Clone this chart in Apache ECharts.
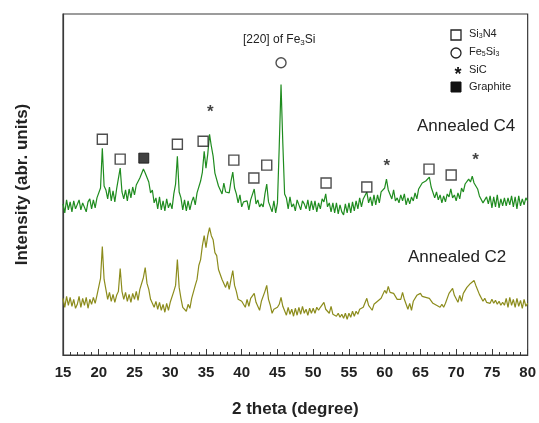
<!DOCTYPE html>
<html>
<head>
<meta charset="utf-8">
<script src="https://cdn.jsdelivr.net/npm/echarts@6/dist/echarts.min.js"></script>
<style>html,body{margin:0;padding:0;background:#fff}#c{width:539px;height:423px}</style>
</head>
<body>
<div id="c"></div>
<script>
// 2-theta sampling grid (degrees)
const thetaStart = 15, thetaStep = 0.25;
const xTicks = [15,20,25,30,35,40,45,50,55,60,65,70,75,80];

// Annealed C4 (offset upward), intensity in arbitrary units
const annealedC4 = [
152,143,156,146, 154,144,155,147, 145,156,146,153, 155,144,154,157, 147,156,148,158,
156,168,208,170, 166,157,169,155, 165,154,167,166, 188,164,157,166, 155,167,158,169,
161,171,169,178, 178,187,183,181, 174,163,166,153, 158,147,159,146, 155,145,157,148,
153,147,162,172, 200,164,158,146, 156,145,155,146, 154,159,151,163, 163,175,184,205,
188,202,222,210, 200,183,184,170, 171,162,173,164, 166,163,175,184, 168,162,153,161,
149,154,152,155, 146,156,155,167, 152,156,149,152, 149,162,172,154, 152,144,155,143,
153,210,272,213, 162,158,147,159, 149,152,145,156, 151,146,155,152, 147,156,145,155,
146,155,144,153, 147,157,154,162, 149,153,144,153, 143,153,142,151, 144,141,152,143,
153,143,154,145, 155,147,158,149, 157,155,164,153, 159,150,161,151, 161,153,164,166,
168,177,166,164, 157,166,155,158, 153,161,155,162, 151,158,152,159, 155,163,157,167,
165,173,171,175, 173,179,169,171, 158,164,156,161, 153,160,154,162, 159,167,158,161,
155,163,157,168, 164,172,170,177, 174,180,173,174, 167,160,159,153, 151,159,152,160,
148,159,149,161, 148,157,150,158, 150,158,151,160, 149,159,147,160, 150,157,151,158,
155];

// Annealed C2 (lower trace)
const annealedC2 = [
57,48,59,50, 58,49,56,47, 51,59,48,57, 50,58,47,56, 51,58,52,60,
60,77,109,76, 66,56,63,54, 61,53,60,64, 87,64,56,63, 54,61,53,62,
56,64,55,66, 66,78,88,72, 66,56,57,48, 54,46,53,45, 51,43,52,45,
53,53,64,70, 96,68,57,48, 50,44,51,47, 57,58,70,76, 90,96,110,120,
108,120,128,120, 116,103,100,86, 84,76,76,68, 74,66,76,85, 70,64,56,57,
54,55,48,56, 49,57,56,62, 53,51,45,54, 53,64,70,56, 50,42,46,44,
48,51,58,49, 47,40,48,41, 46,39,47,40, 48,41,49,42, 46,40,47,42,
47,42,48,45, 48,47,53,46, 48,42,49,41, 43,39,42,38, 41,37,42,36,
42,38,44,39, 44,41,46,45, 48,46,57,50, 50,45,51,49, 54,52,57,58,
65,62,69,63, 64,62,62,56, 58,56,63,56, 54,46,52,45, 54,53,60,60,
62,59,61,58, 60,57,58,52, 54,50,52,48, 51,48,52,53, 62,60,67,60,
59,53,60,54, 62,60,68,66, 72,70,75,70, 70,61,61,54, 57,53,55,52,
56,52,55,51, 54,50,53,50, 57,48,58,50, 56,48,57,49, 55,47,56,49,
52];

// Phase markers [2theta, height]
const si3n4Marks = [[20.5,217],[23,197],[31,212],[34.6,215],[38.9,196],[41.7,178],[43.5,191],[51.8,173],[57.5,169],[66.2,187],[69.3,181]];
const fe5si3Marks = [[45.5,294]];
const sicMarks = [[35.6,248],[60.3,194],[72.7,200]];
const graphiteMarks = [[26.3,198]];

const toPairs = arr => arr.map((v,i)=>[thetaStart + i*thetaStep, v]);

const FONT = '"Liberation Sans", Arial, sans-serif';
const chart = echarts.init(document.getElementById('c'), null, {renderer:'canvas'});
chart.setOption({
  animation:false,
  backgroundColor:'#fff',
  grid:{left:63,right:10,top:14,bottom:66,show:true,borderColor:'#3a3a3a',borderWidth:1.2},
  xAxis:{
    type:'value',min:15,max:80,interval:5,
    name:'2 theta (degree)',nameLocation:'middle',nameGap:46,
    nameTextStyle:{fontFamily:FONT,fontSize:17,fontWeight:'bold',color:'#222'},
    axisLine:{lineStyle:{color:'#3a3a3a',width:1.2}},
    axisTick:{inside:true,length:6,lineStyle:{color:'#3a3a3a'}},
    minorTick:{show:true,splitNumber:5,length:3,lineStyle:{color:'#3a3a3a'}},
    axisLabel:{fontFamily:FONT,fontSize:15,fontWeight:'bold',color:'#222',margin:10,
      formatter:v=>xTicks.includes(v)?String(v):''},
    splitLine:{show:false}
  },
  yAxis:{
    type:'value',min:0,max:343,
    name:'Intensity (abr. units)',nameLocation:'middle',nameGap:32,
    nameTextStyle:{fontFamily:FONT,fontSize:17,fontWeight:'bold',color:'#222'},
    axisLine:{show:true,lineStyle:{color:'#3a3a3a',width:1.2}},
    axisTick:{show:false},axisLabel:{show:false},splitLine:{show:false}
  },
  series:[
    {type:'line',name:'Annealed C4',data:toPairs(annealedC4),showSymbol:false,
     lineStyle:{color:'#1f8c1f',width:1.2},z:2},
    {type:'line',name:'Annealed C2',data:toPairs(annealedC2),showSymbol:false,
     lineStyle:{color:'#8c8c1c',width:1.2},z:2},
    {type:'scatter',name:'Si3N4',data:si3n4Marks,symbol:'rect',symbolSize:10,
     itemStyle:{color:'#fff',borderColor:'#222',borderWidth:1.4},z:5},
    {type:'scatter',name:'Fe5Si3',data:fe5si3Marks,symbol:'circle',symbolSize:10,
     itemStyle:{color:'#fff',borderColor:'#222',borderWidth:1.4},z:5},
    {type:'scatter',name:'Graphite',data:graphiteMarks,symbol:'rect',symbolSize:10,
     itemStyle:{color:'#111',borderColor:'#111',borderWidth:1},z:5},
    {type:'scatter',name:'SiC',data:sicMarks,symbolSize:2,itemStyle:{color:'rgba(0,0,0,0)'},z:5,
     label:{show:true,position:'inside',formatter:'*',fontFamily:FONT,fontSize:17,fontWeight:'bold',color:'#111',offset:[0,4]}}
  ],
  graphic:[
    {type:'text',left:243,top:34,style:{text:'{a|[220] of Fe}{s|3}{a|Si}',fontFamily:FONT,
      rich:{a:{fontSize:12,fontFamily:FONT,fill:'#222'},s:{fontSize:8,fontFamily:FONT,fill:'#222',verticalAlign:'bottom',padding:[6,0,0,0]}}}},
    {type:'rect',shape:{x:451,y:30,width:10,height:10},style:{fill:'#fff',stroke:'#222',lineWidth:1.3}},
    {type:'circle',shape:{cx:456,cy:53,r:5},style:{fill:'#fff',stroke:'#222',lineWidth:1.3}},
    {type:'text',x:458,y:75,style:{text:'*',fontFamily:FONT,fontSize:18,fontWeight:'bold',fill:'#111',align:'center',verticalAlign:'middle'}},
    {type:'rect',shape:{x:451,y:82,width:10,height:10},style:{fill:'#111',stroke:'#111',lineWidth:1}},
    {type:'text',left:469,top:28,style:{text:'{a|Si}{s|3}{a|N4}',
      rich:{a:{fontSize:11,fontFamily:FONT,fill:'#222'},s:{fontSize:7,fontFamily:FONT,fill:'#222',padding:[6,0,0,0]}}}},
    {type:'text',left:469,top:46,style:{text:'{a|Fe}{s|5}{a|Si}{s|3}',
      rich:{a:{fontSize:11,fontFamily:FONT,fill:'#222'},s:{fontSize:7,fontFamily:FONT,fill:'#222',padding:[6,0,0,0]}}}},
    {type:'text',left:469,top:64,style:{text:'SiC',fontSize:11,fontFamily:FONT,fill:'#222'}},
    {type:'text',left:469,top:81,style:{text:'Graphite',fontSize:11,fontFamily:FONT,fill:'#222'}},
    {type:'text',left:417,top:118,style:{text:'Annealed C4',fontSize:17,fontFamily:FONT,fill:'#222'}},
    {type:'text',left:408,top:249,style:{text:'Annealed C2',fontSize:17,fontFamily:FONT,fill:'#222'}}
  ]
});
</script>
</body>
</html>
